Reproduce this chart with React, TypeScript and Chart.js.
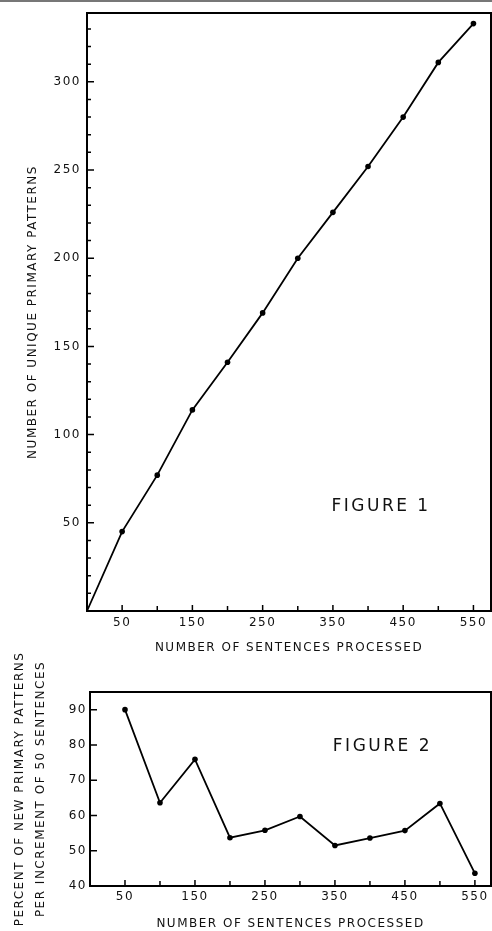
import React, { useEffect, useRef } from 'react';
import { Chart, registerables } from 'chart.js';

Chart.register(...registerables);

// ---------- Figure 1 data ----------
const fig1Sentences = [0, 50, 100, 150, 200, 250, 300, 350, 400, 450, 500, 550];
const fig1Unique = [0, 45, 77, 114, 141, 169, 200, 226, 252, 280, 311, 333];
const fig1XTicks = [0, 50, 100, 150, 200, 250, 300, 350, 400, 450, 500, 550];
const fig1XLabels = [50, 150, 250, 350, 450, 550];
const fig1YTicks = [0, 10, 20, 30, 40, 50, 60, 70, 80, 90, 100, 110, 120, 130, 140, 150, 160, 170, 180, 190, 200, 210, 220, 230, 240, 250, 260, 270, 280, 290, 300, 310, 320, 330];
const fig1YLabels = [50, 100, 150, 200, 250, 300];
const fig1XTitle = 'NUMBER OF SENTENCES PROCESSED';
const fig1YTitle = 'NUMBER OF UNIQUE PRIMARY PATTERNS';
const fig1Label = 'FIGURE 1';
const fig1LabelAt = { x: 348, y: 59 };

// ---------- Figure 2 data ----------
const fig2Sentences = [50, 100, 150, 200, 250, 300, 350, 400, 450, 500, 550];
const fig2Percent = [90, 63.6, 75.9, 53.7, 55.8, 59.7, 51.5, 53.6, 55.7, 63.4, 43.6];
const fig2XTicks = [50, 100, 150, 200, 250, 300, 350, 400, 450, 500, 550];
const fig2XLabels = [50, 150, 250, 350, 450, 550];
const fig2YTicks = [40, 50, 60, 70, 80, 90];
const fig2YLabels = [40, 50, 60, 70, 80, 90];
const fig2XTitle = 'NUMBER OF SENTENCES PROCESSED';
const fig2YTitle = ['PERCENT OF NEW PRIMARY PATTERNS', 'PER INCREMENT OF 50 SENTENCES'];
const fig2Label = 'FIGURE 2';
const fig2LabelAt = { x: 347, y: 79.6 };

const FONT = "'DejaVu Sans', 'Liberation Sans', sans-serif";
const INK = '#111';

const spacingPlugin = {
  id: 'spacing',
  beforeDraw(chart: any) {
    (chart.ctx as any).letterSpacing = '1.5px';
  },
};

function framePlugin(label: string, at: { x: number; y: number }, xLabels: number[], yLabels: number[]) {
  return {
    id: 'frameAndLabel',
    afterDatasetsDraw(chart: any) {
      const { ctx, chartArea, scales } = chart;
      const { left, right, top, bottom } = chartArea;
      ctx.save();
      ctx.strokeStyle = '#000';
      ctx.lineWidth = 2;
      ctx.strokeRect(left, top, right - left, bottom - top);
      // inward tick marks, longer at labelled ticks
      ctx.lineWidth = 1.5;
      ctx.beginPath();
      for (const t of scales.x.ticks) {
        const px = scales.x.getPixelForValue(t.value);
        const len = xLabels.includes(t.value) ? 6 : 5;
        ctx.moveTo(px, bottom);
        ctx.lineTo(px, bottom - len);
      }
      for (const t of scales.y.ticks) {
        const py = scales.y.getPixelForValue(t.value);
        const len = yLabels.includes(t.value) ? 7 : 4;
        ctx.moveTo(left, py);
        ctx.lineTo(left + len, py);
      }
      ctx.stroke();
      (ctx as any).letterSpacing = '2.5px';
      ctx.fillStyle = INK;
      ctx.font = `17px ${FONT}`;
      ctx.textAlign = 'left';
      ctx.textBaseline = 'middle';
      ctx.fillText(label, scales.x.getPixelForValue(at.x), scales.y.getPixelForValue(at.y));
      ctx.restore();
    },
  };
}

function makeConfig(opts: {
  xs: number[];
  ys: number[];
  radii: number[];
  xTicks: number[];
  xLabels: number[];
  yTicks: number[];
  yLabels: number[];
  xMin: number;
  xMax: number;
  yMin: number;
  yMax: number;
  xTitle: string;
  yTitle: string | string[];
  yTitleLineHeight: number;
  yTitlePad: number;
  yWidth: number;
  xHeight: number;
  xTickPad: number;
  yTickPad: number;
  xTitlePad: number;
  padTop: number;
  label: string;
  labelAt: { x: number; y: number };
}): any {
  const zeroPad = (scale: any) => {
    scale.paddingLeft = 0;
    scale.paddingRight = 0;
    scale.paddingTop = 0;
    scale.paddingBottom = 0;
  };
  const hiddenGrid = { display: true, drawOnChartArea: false, drawTicks: true, tickLength: 0, color: 'rgba(0,0,0,0)' };
  return {
    type: 'line',
    data: {
      datasets: [
        {
          data: opts.xs.map((x, i) => ({ x, y: opts.ys[i] })),
          borderColor: '#000',
          backgroundColor: '#000',
          borderWidth: 1.8,
          pointRadius: opts.radii,
          pointBackgroundColor: '#000',
          pointBorderWidth: 0,
          tension: 0,
          clip: 4,
        },
      ],
    },
    options: {
      responsive: false,
      animation: false,
      devicePixelRatio: 1,
      layout: { autoPadding: false, padding: { top: opts.padTop, right: 1, left: 0, bottom: 0 } },
      plugins: { legend: { display: false }, tooltip: { enabled: false }, title: { display: false } },
      scales: {
        x: {
          type: 'linear',
          min: opts.xMin,
          max: opts.xMax,
          afterBuildTicks: (scale: any) => {
            scale.ticks = opts.xTicks.map((v) => ({ value: v }));
          },
          afterFit: (scale: any) => {
            scale.height = opts.xHeight;
            zeroPad(scale);
          },
          border: { display: false },
          grid: hiddenGrid,
          ticks: {
            autoSkip: false,
            maxRotation: 0,
            padding: opts.xTickPad,
            color: INK,
            font: { family: FONT, size: 12 },
            callback: (v: any) => (opts.xLabels.includes(v) ? String(v) : ''),
          },
          title: {
            display: true,
            text: opts.xTitle,
            color: INK,
            font: { family: FONT, size: 12 },
            padding: { top: 0, bottom: opts.xTitlePad },
          },
        },
        y: {
          type: 'linear',
          min: opts.yMin,
          max: opts.yMax,
          afterBuildTicks: (scale: any) => {
            scale.ticks = opts.yTicks.map((v) => ({ value: v }));
          },
          afterFit: (scale: any) => {
            scale.width = opts.yWidth;
            zeroPad(scale);
          },
          border: { display: false },
          grid: hiddenGrid,
          ticks: {
            autoSkip: false,
            padding: opts.yTickPad,
            color: INK,
            font: { family: FONT, size: 12 },
            callback: (v: any) => (opts.yLabels.includes(v) ? String(v) : ''),
          },
          title: {
            display: true,
            text: opts.yTitle,
            color: INK,
            font: { family: FONT, size: 12, lineHeight: opts.yTitleLineHeight },
            padding: { top: opts.yTitlePad, bottom: 0 },
          },
        },
      },
    },
    plugins: [spacingPlugin, framePlugin(opts.label, opts.labelAt, opts.xLabels, opts.yLabels)],
  };
}

export default function App() {
  const ref1 = useRef<HTMLCanvasElement | null>(null);
  const ref2 = useRef<HTMLCanvasElement | null>(null);

  useEffect(() => {
    if (!ref1.current || !ref2.current) return;
    const c1 = new Chart(
      ref1.current,
      makeConfig({
        xs: fig1Sentences,
        ys: fig1Unique,
        radii: fig1Sentences.map((v) => (v === 0 ? 0 : 2.8)),
        xTicks: fig1XTicks,
        xLabels: fig1XLabels,
        yTicks: fig1YTicks,
        yLabels: fig1YLabels,
        xMin: 0,
        xMax: 575,
        yMin: 0,
        yMax: 339,
        xTitle: fig1XTitle,
        yTitle: fig1YTitle,
        yTitleLineHeight: 1.2,
        yTitlePad: 26,
        yWidth: 87,
        xHeight: 49,
        xTickPad: 5,
        yTickPad: 6,
        xTitlePad: 5,
        padTop: 13,
        label: fig1Label,
        labelAt: fig1LabelAt,
      })
    );
    const c2 = new Chart(
      ref2.current,
      makeConfig({
        xs: fig2Sentences,
        ys: fig2Percent,
        radii: fig2Sentences.map(() => 2.8),
        xTicks: fig2XTicks,
        xLabels: fig2XLabels,
        yTicks: fig2YTicks,
        yLabels: fig2YLabels,
        xMin: 0,
        xMax: 573,
        yMin: 40,
        yMax: 95,
        xTitle: fig2XTitle,
        yTitle: fig2YTitle,
        yTitleLineHeight: 1.75,
        yTitlePad: 9,
        yWidth: 90,
        xHeight: 45,
        xTickPad: 4,
        yTickPad: 3,
        xTitlePad: 0,
        padTop: 52,
        label: fig2Label,
        labelAt: fig2LabelAt,
      })
    );
    return () => {
      c1.destroy();
      c2.destroy();
    };
  }, []);

  return (
    <div style={{ position: 'absolute', left: 0, top: 0, width: 492, height: 931, background: '#fff', overflow: 'hidden' }}>
      <div style={{ position: 'absolute', left: 0, top: 0, width: 492, height: 2, background: '#777' }} />
      <canvas ref={ref1} width={492} height={660} style={{ position: 'absolute', left: 0, top: 0, width: 492, height: 660 }} />
      <canvas ref={ref2} width={492} height={291} style={{ position: 'absolute', left: 0, top: 640, width: 492, height: 291 }} />
    </div>
  );
}
